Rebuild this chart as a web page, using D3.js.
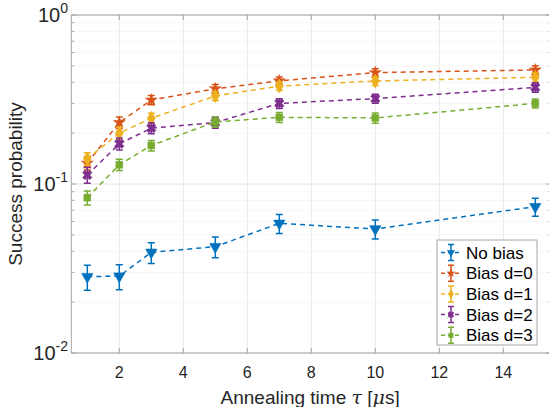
<!DOCTYPE html>
<html lang="en">
  <head>
    <meta charset="UTF-8" />
    <title>Success probability vs annealing time</title>
    <script src="https://d3js.org/d3.v7.min.js"></script>
    <style>
      body { margin: 0; background: #fff; }
      svg { display: block; font-family: "Liberation Sans", Arial, sans-serif; }
    </style>
  </head>
  <body>
    <div id="chart"></div>
    <script>
      const times = [1, 2, 3, 5, 7, 10, 15];
      const seriesNames = ["No bias", "Bias d=0", "Bias d=1", "Bias d=2", "Bias d=3"];
      const noBias = [0.0283, 0.0285, 0.0394, 0.0426, 0.0585, 0.0542, 0.0734];
      const noBiasErr = [0.0048, 0.0048, 0.0055, 0.006, 0.0075, 0.007, 0.009];
      const biasD0 = [0.133, 0.231, 0.314, 0.366, 0.408, 0.456, 0.473];
      const biasD0Err = [0.012, 0.018, 0.02, 0.022, 0.022, 0.025, 0.028];
      const biasD1 = [0.141, 0.2, 0.245, 0.332, 0.38, 0.407, 0.428];
      const biasD1Err = [0.012, 0.016, 0.017, 0.02, 0.022, 0.024, 0.026];
      const biasD2 = [0.113, 0.173, 0.214, 0.231, 0.3, 0.32, 0.373];
      const biasD2Err = [0.012, 0.014, 0.016, 0.017, 0.02, 0.02, 0.024];
      const biasD3 = [0.083, 0.13, 0.169, 0.233, 0.248, 0.246, 0.3];
      const biasD3Err = [0.008, 0.01, 0.012, 0.016, 0.017, 0.017, 0.018];
      const xTicks = [2, 4, 6, 8, 10, 12, 14];
      const yTicks = [0.01, 0.1, 1];
      const yTickExp = ["-2", "-1", "0"];

      const colors = ["#0072BD", "#D95319", "#EDB120", "#7E2F8E", "#77AC30"];
      const symbols = [d3.symbolTriangle, d3.symbolStar, d3.symbolDiamond, d3.symbolCross, d3.symbolSquare];

      const series = seriesNames.map((name, i) => ({
        name,
        values: [noBias, biasD0, biasD1, biasD2, biasD3][i],
        errs: [noBiasErr, biasD0Err, biasD1Err, biasD2Err, biasD3Err][i],
        color: colors[i],
        symbol: symbols[i],
      }));

      const W = 549, H = 407;
      const mLeft = 71.3, mRight = 551.3, mTop = 15, mBottom = 353;

      const svg = d3.select("#chart").append("svg").attr("width", W).attr("height", H);

      const x = d3.scaleLinear().domain([0.5, 15.5]).range([mLeft, mRight]);
      const y = d3.scaleLog().domain([0.01, 1]).range([mBottom, mTop]);

      // minor y values
      const minorY = [];
      [0.01, 0.1].forEach((b) => d3.range(2, 10).forEach((k) => minorY.push(b * k)));

      // grid
      const grid = svg.append("g");
      grid.selectAll(".ymin").data(minorY).join("line")
        .attr("x1", mLeft).attr("x2", mRight)
        .attr("y1", (d) => y(d)).attr("y2", (d) => y(d))
        .attr("stroke", "#ededed").attr("stroke-width", 1)
        .attr("stroke-dasharray", "1,1");
      grid.selectAll(".ymaj").data(yTicks).join("line")
        .attr("x1", mLeft).attr("x2", mRight)
        .attr("y1", (d) => y(d)).attr("y2", (d) => y(d))
        .attr("stroke", "#e3e3e3");
      grid.selectAll(".xmaj").data(xTicks).join("line")
        .attr("x1", (d) => x(d)).attr("x2", (d) => x(d))
        .attr("y1", mTop).attr("y2", mBottom)
        .attr("stroke", "#e8e8e8");

      // axes box and ticks
      const axisColor = "#a6a6a6";
      const ax = svg.append("g").attr("stroke", axisColor).attr("fill", "none");
      ax.append("rect").attr("x", mLeft).attr("y", mTop)
        .attr("width", mRight - mLeft).attr("height", mBottom - mTop);
      ax.selectAll(".xt").data(xTicks).join("path")
        .attr("d", (d) => `M${x(d)},${mBottom}v-5M${x(d)},${mTop}v5`);
      ax.selectAll(".yt").data(yTicks).join("path")
        .attr("d", (d) => `M${mLeft},${y(d)}h5M${mRight},${y(d)}h-5`);
      ax.selectAll(".ymt").data(minorY).join("path")
        .attr("d", (d) => `M${mLeft},${y(d)}h3M${mRight},${y(d)}h-3`);

      // tick labels
      svg.append("g").selectAll("text").data(xTicks).join("text")
        .attr("x", (d) => x(d)).attr("y", 378)
        .attr("text-anchor", "middle").attr("font-size", 16).attr("fill", "#262626")
        .text((d) => d);

      const yl = svg.append("g").selectAll("text").data(yTicks).join("text")
        .attr("x", 68).attr("y", (d) => y(d) + 7)
        .attr("text-anchor", "end").attr("font-size", 20).attr("fill", "#262626");
      yl.append("tspan").text("10");
      yl.append("tspan").attr("dy", -9).attr("font-size", 14).text((d, i) => yTickExp[i]);

      // axis titles
      svg.append("text")
        .attr("transform", `translate(22,${(mTop + mBottom) / 2}) rotate(-90)`)
        .attr("text-anchor", "middle").attr("font-size", 19).attr("fill", "#262626")
        .text("Success probability");
      const xt = svg.append("text")
        .attr("x", (mLeft + 549) / 2).attr("y", 404)
        .attr("text-anchor", "middle").attr("font-size", 19).attr("fill", "#262626");
      xt.append("tspan").text("Annealing time ");
      xt.append("tspan").attr("font-style", "italic").attr("font-family", "DejaVu Serif, serif").text("τ");
      xt.append("tspan").text(" [");
      xt.append("tspan").attr("font-style", "italic").attr("font-family", "DejaVu Serif, serif").text("μ");
      xt.append("tspan").text("s]");

      const line = d3.line().x((d) => x(d[0])).y((d) => y(d[1]));

      function marker(g, s, size) {
        const rot = s.symbol === d3.symbolTriangle ? 180 : s.symbol === d3.symbolCross ? 45 : 0;
        const k = s.symbol === d3.symbolStar ? 0.8 : s.symbol === d3.symbolSquare ? 0.85 : 1;
        g.append("path")
          .attr("d", d3.symbol().type(s.symbol).size(size * k)())
          .attr("transform", `rotate(${rot})`)
          .attr("fill", s.color).attr("stroke", s.color).attr("stroke-width", 0.6);
      }

      series.forEach((s) => {
        const g = svg.append("g");
        const pts = times.map((t, i) => [t, s.values[i], s.errs[i]]);
        g.append("path").datum(pts).attr("d", line)
          .attr("fill", "none").attr("stroke", s.color)
          .attr("stroke-width", 1.5).attr("stroke-dasharray", "5,4");
        const p = g.selectAll(".pt").data(pts).join("g")
          .attr("transform", (d) => `translate(${x(d[0])},${y(d[1])})`);
        p.append("path")
          .attr("d", (d) => {
            const y0 = y(d[1]);
            const a = y(d[1] + d[2]) - y0, b = y(d[1] - d[2]) - y0;
            return `M0,${a}V${b}M-3.5,${a}h7M-3.5,${b}h7`;
          })
          .attr("stroke", s.color).attr("stroke-width", 1.5).attr("fill", "none");
        p.each(function () { marker(d3.select(this), s, 55); });
      });

      // legend
      const lg = svg.append("g").attr("transform", "translate(437,240)");
      lg.append("rect").attr("width", 100).attr("height", 105)
        .attr("fill", "#fff").attr("stroke", "#a6a6a6");
      series.forEach((s, i) => {
        const yy = 12.5 + i * 20.7;
        const e = lg.append("g");
        e.append("line").attr("x1", 4).attr("x2", 22).attr("y1", yy).attr("y2", yy)
          .attr("stroke", s.color).attr("stroke-width", 1.5).attr("stroke-dasharray", "4,3");
        e.append("path").attr("d", `M14,${yy - 8}V${yy + 8}M11,${yy - 8}h6M11,${yy + 8}h6`)
          .attr("stroke", s.color).attr("stroke-width", 1.5);
        const mg = e.append("g").attr("transform", `translate(14,${yy})`);
        marker(mg, s, 22);
        e.append("text").attr("x", 29).attr("y", yy + 6)
          .attr("font-size", 17).attr("fill", "#000").text(s.name);
      });
    </script>
  </body>
</html>
